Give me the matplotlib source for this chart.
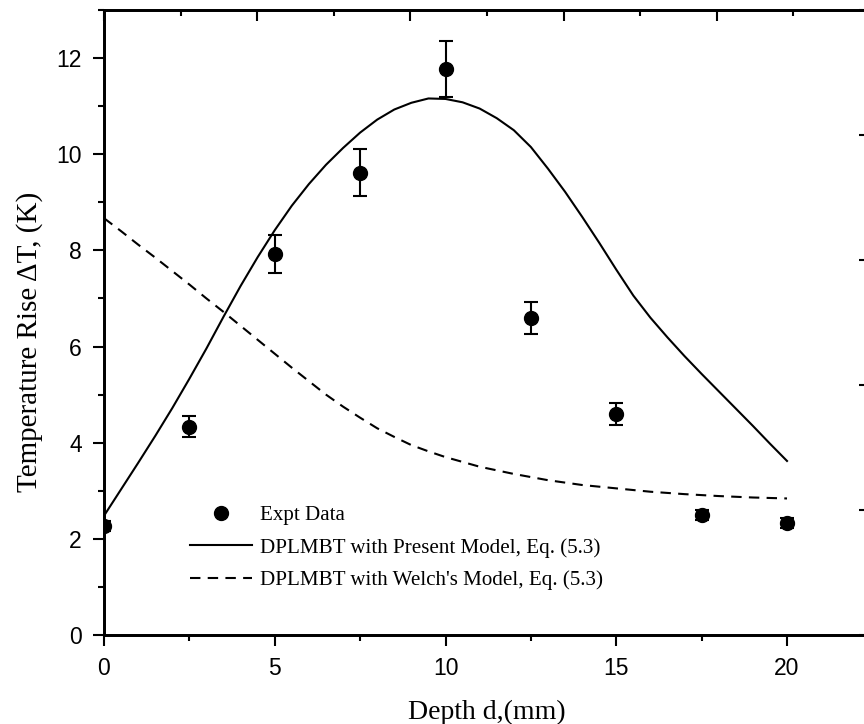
import numpy as np
import matplotlib
matplotlib.use('Agg')
import matplotlib.pyplot as plt
from matplotlib.ticker import MultipleLocator

plt.rcParams['font.family'] = ['Liberation Sans', 'DejaVu Sans']

# experimental data
expt_x = [0, 2.5, 5, 7.5, 10, 12.5, 15, 17.5, 20]
expt_y = [2.27, 4.33, 7.92, 9.62, 11.77, 6.6, 4.6, 2.5, 2.33]
expt_err = [0.1, 0.22, 0.4, 0.48, 0.58, 0.33, 0.23, 0.1, 0.1]

# DPLMBT with present model
present_x = [0, 0.5, 1, 1.5, 2, 2.5, 3, 3.5, 4, 4.5, 5, 5.5, 6, 6.5, 7, 7.5, 8,
             8.5, 9, 9.5, 10, 10.5, 11, 11.5, 12, 12.5, 13, 13.5, 14, 14.5, 15,
             15.5, 16, 16.5, 17, 17.5, 18, 18.5, 19, 19.5, 20]
present_y = [2.48, 3.03, 3.58, 4.14, 4.72, 5.33, 5.96, 6.62, 7.26, 7.86, 8.42,
             8.93, 9.38, 9.78, 10.13, 10.45, 10.72, 10.93, 11.07, 11.16, 11.15,
             11.08, 10.95, 10.75, 10.5, 10.15, 9.7, 9.22, 8.7, 8.16, 7.6,
             7.06, 6.6, 6.19, 5.8, 5.43, 5.07, 4.71, 4.35, 3.98, 3.62]

# DPLMBT with Welch's model
welch_x = [0, 0.5, 1, 1.5, 2, 2.5, 3, 3.5, 4, 4.5, 5, 5.5, 6, 6.5, 7, 7.5, 8,
           8.5, 9, 9.5, 10, 11, 12, 13, 14, 15, 16, 17, 18, 19, 20]
welch_y = [8.67, 8.4, 8.12, 7.85, 7.57, 7.29, 7.0, 6.72, 6.43, 6.14, 5.85, 5.56,
           5.28, 5.0, 4.75, 4.52, 4.3, 4.12, 3.95, 3.82, 3.7, 3.5, 3.35, 3.22,
           3.12, 3.05, 2.98, 2.93, 2.89, 2.86, 2.84]

fig = plt.figure(figsize=(8.64, 7.24), dpi=100)
ax = fig.add_axes([104/864, 89/724, 766/864, 625/724])

ax.errorbar(expt_x, expt_y, yerr=expt_err, fmt='none', ecolor='black',
            elinewidth=1.5, capsize=5, capthick=1.5, zorder=3)
ax.plot(expt_x, expt_y, 'o', color='black', markersize=10, label='Expt Data', zorder=4)
ax.plot(present_x, present_y, '-', color='black', lw=1.5,
        label='DPLMBT with Present Model, Eq. (5.3)')
ax.plot(welch_x, welch_y, '--', color='black', lw=1.5, dashes=(5, 3.5),
        label="DPLMBT with Welch's Model, Eq. (5.3)")

ax.set_xlim(0, 22.43)
ax.set_ylim(0, 13)
ax.xaxis.set_major_locator(MultipleLocator(5))
ax.xaxis.set_minor_locator(MultipleLocator(2.5))
ax.yaxis.set_major_locator(MultipleLocator(2))
ax.yaxis.set_minor_locator(MultipleLocator(1))
ax.tick_params(which='both', direction='out', width=1.5, labelsize=16.5,
               top=False, right=False)
ax.tick_params(axis='x', pad=8)
ax.tick_params(axis='y', pad=8)
ax.tick_params(which='major', length=8)
ax.tick_params(which='minor', length=4.5)
for s in ax.spines.values():
    s.set_linewidth(1.8)

# top and right axes (ticks only, labels cropped)
axt = ax.twiny()
axt.set_xlim(0, 5)
axt.xaxis.set_major_locator(MultipleLocator(1))
axt.xaxis.set_minor_locator(MultipleLocator(0.5))
axt.tick_params(which='both', direction='in', width=1.5, labeltop=False)
axt.tick_params(which='major', length=8)
axt.tick_params(which='minor', length=4.5)
axr = ax.twinx()
axr.set_ylim(0, 5)
axr.yaxis.set_major_locator(MultipleLocator(1))
axr.yaxis.set_minor_locator(MultipleLocator(0.5))
axr.tick_params(which='both', direction='in', width=1.5, labelright=False)
axr.tick_params(which='major', length=8)
axr.tick_params(which='minor', length=4.5)
for a in (axt, axr):
    for s in a.spines.values():
        s.set_linewidth(1.8)

ax.set_xlabel('Depth d,(mm)', family='Liberation Serif', fontsize=20, labelpad=14)
ax.set_ylabel('Temperature Rise \u0394T, (K)', family='Liberation Serif', fontsize=21)
ax.yaxis.set_label_coords(-0.08, 0.469)

ax.legend(loc='lower left', bbox_to_anchor=(0.101, 0.058), frameon=False,
          prop={'family': 'Liberation Serif', 'size': 15.1}, handlelength=2.95,
          handletextpad=0.4, labelspacing=0.62, borderaxespad=0)

fig.savefig('out.png', dpi=100)
